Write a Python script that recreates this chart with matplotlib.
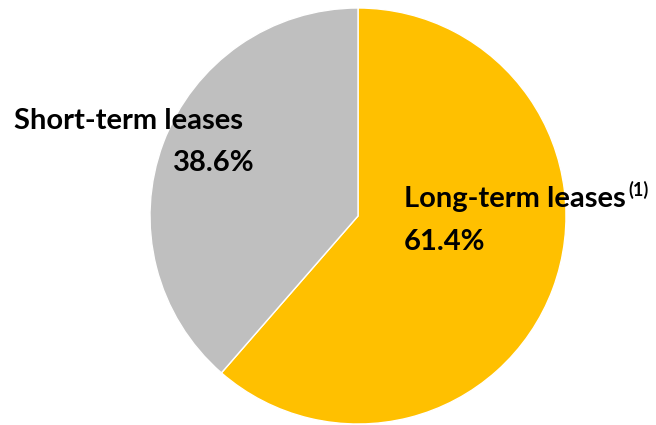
import matplotlib
matplotlib.use('Agg')
import matplotlib.pyplot as plt

labels = ['Long-term leases', 'Short-term leases']
shares = [61.4, 38.6]
colors = ['#FFC000', '#BFBFBF']
note = '(1)'

W, H = 656, 425
fig = plt.figure(figsize=(W / 100, H / 100), dpi=100)
cx, cy, r = 358, 216, 208
ax = fig.add_axes([(cx - r) / W, (H - cy - r) / H, 2 * r / W, 2 * r / H])
ax.pie(shares, colors=colors, startangle=90, counterclock=False, radius=1,
       wedgeprops=dict(edgecolor='white', linewidth=1))
ax.set_xlim(-1, 1)
ax.set_ylim(-1, 1)
ax.set_aspect('equal')
ax.axis('off')

font = dict(family='Lato', fontweight='bold', color='black')

def put(x, y, s, size=21, va='center'):
    return fig.text(x / W, 1 - y / H, s, va=va, ha='left', fontsize=size, **font)

put(14, 121, labels[1])
put(173, 163, f'{shares[1]:.1f}%')
t = put(404, 199, labels[0])
put(404, 242, f'{shares[0]:.1f}%')

# superscript note right after the long-term label
fig.canvas.draw()
bb = t.get_window_extent()
put(bb.x1 + 3, 190, note, size=13)

fig.savefig('out.png', dpi=100)
